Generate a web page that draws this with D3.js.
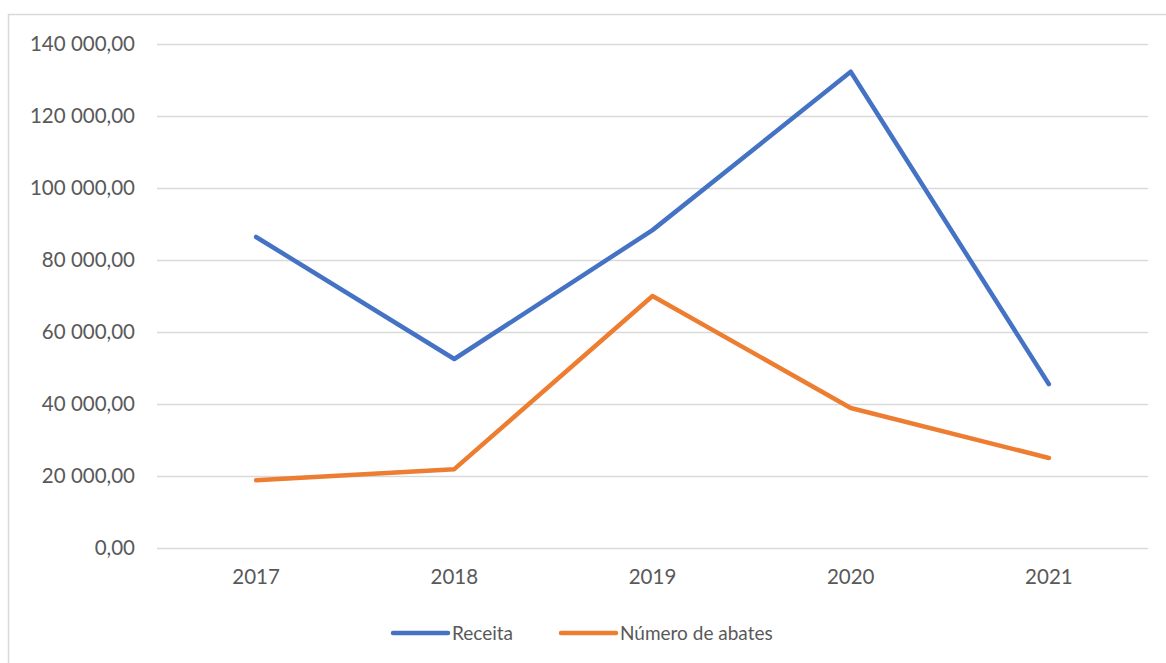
<!DOCTYPE html>
<html>
<head>
<meta charset="utf-8">
<script src="https://cdn.jsdelivr.net/npm/d3@7"></script>
<style>
  html, body { margin: 0; padding: 0; background: #fff; }
  svg { display: block; }
  text { font-family: Lato, "Open Sans", sans-serif; fill: #595959; }
</style>
</head>
<body>
<svg id="chart" width="1166" height="663"></svg>
<script>
// Years on the category axis
const years = ["2017", "2018", "2019", "2020", "2021"];
// Series values
const receita = [86400, 52500, 88300, 132300, 45500];
const abates = [18800, 21900, 70000, 38900, 25000];
// Y axis ticks
const yTicks = [0, 20000, 40000, 60000, 80000, 100000, 120000, 140000];

const seriesList = [
  { name: "Receita", values: receita, color: "#4472C4" },
  { name: "Número de abates", values: abates, color: "#ED7D31" }
];

const svg = d3.select("#chart");

// Outer chart frame
svg.append("rect")
  .attr("x", 8.5).attr("y", 14.5)
  .attr("width", 1170).attr("height", 670)
  .attr("fill", "none").attr("stroke", "#d9d9d9").attr("stroke-width", 1.5);

const plot = { left: 157, right: 1148, top: 44, bottom: 548 };

const x = d3.scaleBand().domain(years).range([plot.left, plot.right]);
const y = d3.scaleLinear().domain([0, 140000]).range([plot.bottom, plot.top]);

const fmt = v => {
  const s = d3.format(",.2f")(v);
  return s.replace(/,/g, " ").replace(".", ",");
};

// Horizontal gridlines with value labels
const yAxis = d3.axisLeft(y).tickValues(yTicks).tickFormat(fmt)
  .tickSize(-(plot.right - plot.left)).tickPadding(22);
const gy = svg.append("g").attr("transform", `translate(${plot.left},0)`).call(yAxis);
gy.select(".domain").remove();
gy.selectAll(".tick line").attr("stroke", "#d9d9d9").attr("stroke-width", 1.3);
gy.selectAll(".tick text").attr("font-size", 20.5).attr("fill", "#595959")
  .attr("font-family", "Lato, 'Open Sans', sans-serif");

// Category axis labels
const xAxis = d3.axisBottom(x).tickSize(0).tickPadding(21);
const gx = svg.append("g").attr("transform", `translate(0,${plot.bottom})`).call(xAxis);
gx.select(".domain").remove();
gx.selectAll(".tick text").attr("font-size", 20.5).attr("fill", "#595959")
  .attr("font-family", "Lato, 'Open Sans', sans-serif");

// Lines
const line = d3.line()
  .x((d, i) => x(years[i]) + x.bandwidth() / 2)
  .y(d => y(d));

seriesList.forEach(s => {
  svg.append("path")
    .datum(s.values)
    .attr("d", line)
    .attr("fill", "none")
    .attr("stroke", s.color)
    .attr("stroke-width", 4.5)
    .attr("stroke-linecap", "round")
    .attr("stroke-linejoin", "round");
});

// Legend
const legendItems = [
  { x: 393, textX: 452 },
  { x: 561, textX: 620 }
];
seriesList.forEach((s, i) => {
  const g = svg.append("g");
  g.append("line")
    .attr("x1", legendItems[i].x).attr("x2", legendItems[i].x + 55)
    .attr("y1", 633).attr("y2", 633)
    .attr("stroke", s.color).attr("stroke-width", 4.5)
    .attr("stroke-linecap", "round");
  g.append("text")
    .attr("x", legendItems[i].textX).attr("y", 633)
    .attr("dy", "0.35em")
    .attr("font-size", 19)
    .text(s.name);
});
</script>
</body>
</html>
